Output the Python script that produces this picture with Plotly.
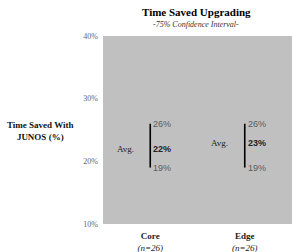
import plotly.graph_objects as go

categories = ["Core", "Edge"]
sample_sizes = ["n=26", "n=26"]
lower = [19, 19]
average = [22, 23]
upper = [26, 26]
y_ticks = [10, 20, 30, 40]

xs = list(range(len(categories)))
serif = "Liberation Serif, Times New Roman, serif"
sans = "Liberation Sans, Arial, sans-serif"

fig = go.Figure()
for i, c in enumerate(categories):
    fig.add_trace(go.Scatter(x=[i, i], y=[lower[i], upper[i]], mode="lines",
                             line=dict(color="black", width=1.6), showlegend=False, hoverinfo="skip"))

annotations = []
for i in xs:
    annotations.append(dict(x=i, y=upper[i], xref="x", yref="y", text=f"{upper[i]}%",
                            showarrow=False, xanchor="left", xshift=1,
                            font=dict(family=sans, size=9, color="#5a5a5a")))
    annotations.append(dict(x=i, y=lower[i], xref="x", yref="y", text=f"{lower[i]}%",
                            showarrow=False, xanchor="left", xshift=1,
                            font=dict(family=sans, size=9, color="#5a5a5a")))
    annotations.append(dict(x=i, y=average[i], xref="x", yref="y", text=f"<b>{average[i]}%</b>",
                            showarrow=False, xanchor="left", xshift=1,
                            font=dict(family=sans, size=9, color="#222222")))
    annotations.append(dict(x=i, y=average[i], xref="x", yref="y", text="Avg.",
                            showarrow=False, xanchor="center", xshift=-25,
                            font=dict(family=serif, size=9, color="#222222")))

W, H = 294, 252
L, R, T, B = 103, 2, 36, 28
pw, ph = W - L - R, H - T - B
def px(x):
    return (x - L) / pw
def py(y):
    return (H - B - y) / ph

annotations.append(dict(x=px(196), y=py(12), xref="paper", yref="paper",
                        text="<b>Time Saved Upgrading</b>", showarrow=False,
                        xanchor="center", yanchor="middle",
                        font=dict(family=serif, size=11, color="black")))
annotations.append(dict(x=px(196), y=py(24), xref="paper", yref="paper",
                        text="<i>-75% Confidence Interval-</i>", showarrow=False,
                        xanchor="center", yanchor="middle",
                        font=dict(family=serif, size=8, color="#333333")))
annotations.append(dict(x=px(40), y=py(131), xref="paper", yref="paper",
                        text="<b>Time Saved With<br>JUNOS (%)</b>", showarrow=False,
                        xanchor="center", yanchor="middle",
                        font=dict(family=serif, size=9, color="#111111")))

fig.update_layout(
    width=W, height=H,
    margin=dict(l=L, r=R, t=T, b=B),
    paper_bgcolor="white",
    plot_bgcolor="#c0c0c0",
    annotations=annotations,
    showlegend=False,
    xaxis=dict(range=[-0.5, 1.5], tickvals=xs,
               ticktext=[f"<b>{c}</b><br><i>({n})</i>" for c, n in zip(categories, sample_sizes)],
               showgrid=False, zeroline=False, showline=False, ticks="",
               ticklabelstandoff=5,
               tickfont=dict(family=serif, size=9, color="#222222"), automargin=False, fixedrange=True),
    yaxis=dict(range=[10, 40], tickvals=y_ticks, ticktext=[f"{v}%" for v in y_ticks],
               showgrid=False, zeroline=False, showline=False, ticks="",
               ticklabelstandoff=4,
               tickfont=dict(family=serif, size=8, color="#666666"), automargin=False, fixedrange=True),
)
fig.write_html("out.html")
